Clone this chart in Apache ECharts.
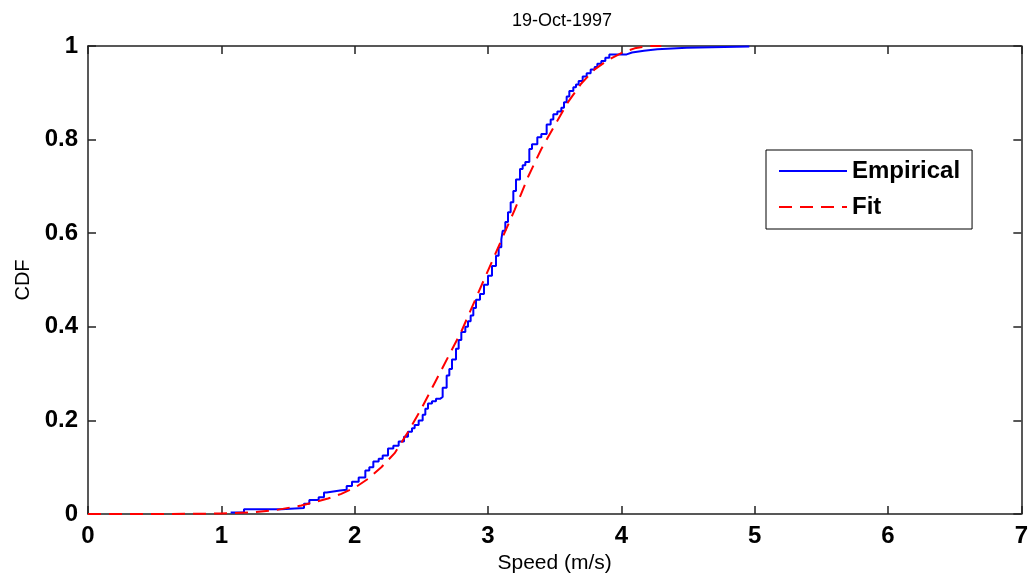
<!DOCTYPE html>
<html>
<head>
<meta charset="utf-8">
<script src="https://cdn.jsdelivr.net/npm/echarts@6/dist/echarts.min.js"></script>
<style>
  html, body { margin: 0; padding: 0; background: #fff; }
  #chart { width: 1031px; height: 579px; }
</style>
</head>
<body>
<div id="chart"></div>
<script>
// empirical CDF, jump locations (m/s) and value after each jump
var empiricalSpeed = [1.07, 1.17, 1.45, 1.62, 1.66, 1.73, 1.77, 1.79, 1.89, 1.94, 1.98, 2.03, 2.08, 2.11, 2.14, 2.18, 2.21, 2.25, 2.29, 2.33,
  2.37, 2.40, 2.43, 2.45, 2.48, 2.51, 2.53, 2.55, 2.58, 2.61, 2.64, 2.66, 2.69, 2.71, 2.73, 2.76, 2.78, 2.80, 2.83, 2.85,
  2.87, 2.89, 2.91, 2.94, 2.97, 3.00, 3.03, 3.06, 3.08, 3.10, 3.11, 3.13, 3.15, 3.17, 3.19, 3.21, 3.24, 3.26, 3.28, 3.31,
  3.33, 3.37, 3.40, 3.44, 3.47, 3.49, 3.52, 3.55, 3.57, 3.59, 3.61, 3.64, 3.66, 3.68, 3.71, 3.74, 3.77, 3.80, 3.82, 3.85,
  3.88, 3.91, 4.04, 4.08, 4.17, 4.27, 4.49, 4.96];
var empiricalCdf = [0.003, 0.010, 0.013, 0.022, 0.030, 0.036, 0.046, 0.050, 0.052, 0.060, 0.069, 0.078, 0.093, 0.100, 0.112, 0.118, 0.125, 0.140, 0.146, 0.155,
  0.165, 0.176, 0.183, 0.190, 0.200, 0.212, 0.225, 0.236, 0.241, 0.246, 0.250, 0.270, 0.296, 0.310, 0.330, 0.353, 0.372, 0.389, 0.400, 0.412,
  0.424, 0.440, 0.458, 0.470, 0.490, 0.509, 0.530, 0.552, 0.570, 0.587, 0.605, 0.624, 0.645, 0.666, 0.690, 0.715, 0.737, 0.745, 0.752, 0.780,
  0.790, 0.805, 0.812, 0.832, 0.843, 0.854, 0.860, 0.868, 0.880, 0.892, 0.904, 0.912, 0.918, 0.925, 0.935, 0.942, 0.950, 0.955, 0.962, 0.968,
  0.975, 0.982, 0.986, 0.990, 0.993, 0.996, 0.999, 1.000];

// fitted CDF
var fitSpeed = [0, 0.5, 1.0, 1.2, 1.4, 1.6, 1.8, 1.9, 2.0, 2.1, 2.2, 2.3, 2.4, 2.5, 2.6, 2.7, 2.8, 2.9, 3.0,
  3.1, 3.2, 3.3, 3.4, 3.5, 3.6, 3.7, 3.8, 3.9, 4.0, 4.1, 4.2, 4.3];
var fitCdf = [0, 0, 0.001, 0.003, 0.008, 0.018, 0.033, 0.043, 0.056, 0.075, 0.100, 0.130, 0.175, 0.225, 0.280, 0.335, 0.390, 0.455, 0.520,
  0.585, 0.650, 0.720, 0.780, 0.830, 0.880, 0.920, 0.950, 0.970, 0.985, 0.995, 1.000, 1.000];

var xTicks = { min: 0, max: 7, interval: 1 };
var yTicks = { min: 0, max: 1, interval: 0.2 };

function pairs(xs, ys) {
  var out = [];
  for (var i = 0; i < xs.length; i++) out.push([xs[i], ys[i]]);
  return out;
}

var chart = echarts.init(document.getElementById('chart'));
var lineAxis = { show: true, onZero: false, lineStyle: { color: '#222', width: 1.5 } };
var inTick = { show: true, inside: true, length: 8, lineStyle: { color: '#222', width: 1.5 } };
var tickFont = { color: '#000', fontFamily: 'Liberation Sans', fontWeight: 'bold', fontSize: 24 };

var option = {
  backgroundColor: '#fff',
  animation: false,
  title: {
    text: '19-Oct-1997',
    left: 557, top: 7, textAlign: 'center',
    textStyle: { color: '#000', fontFamily: 'Liberation Sans', fontWeight: 'normal', fontSize: 18 }
  },
  grid: { left: 88, right: 5, top: 46, bottom: 63.5 },
  legend: {
    orient: 'vertical',
    left: 766, top: 150,
    padding: [9, 12, 10, 12],
    itemGap: 12,
    itemWidth: 68, itemHeight: 14,
    itemStyle: { opacity: 0 },
    borderColor: '#000', borderWidth: 1,
    backgroundColor: '#fff',
    textStyle: { color: '#000', fontFamily: 'Liberation Sans', fontWeight: 'bold', fontSize: 24 },
    data: ['Empirical', 'Fit']
  },
  xAxis: [{
    type: 'value', position: 'bottom',
    min: xTicks.min, max: xTicks.max, interval: xTicks.interval,
    name: 'Speed (m/s)', nameLocation: 'middle', nameGap: 39,
    nameTextStyle: { color: '#000', fontFamily: 'Liberation Sans', fontSize: 21 },
    axisLine: lineAxis, axisTick: inTick,
    axisLabel: Object.assign({ margin: 10 }, tickFont),
    splitLine: { show: false }
  }, {
    type: 'value', position: 'top',
    min: xTicks.min, max: xTicks.max, interval: xTicks.interval,
    axisLine: lineAxis, axisTick: inTick,
    axisLabel: { show: false }, splitLine: { show: false }
  }],
  yAxis: [{
    type: 'value', position: 'left',
    min: yTicks.min, max: yTicks.max, interval: yTicks.interval,
    name: 'CDF', nameLocation: 'middle', nameGap: 55,
    nameTextStyle: { color: '#000', fontFamily: 'Liberation Sans', fontSize: 20 },
    axisLine: lineAxis, axisTick: inTick,
    axisLabel: Object.assign({ margin: 10 }, tickFont),
    splitLine: { show: false }
  }, {
    type: 'value', position: 'right',
    min: yTicks.min, max: yTicks.max, interval: yTicks.interval,
    axisLine: lineAxis, axisTick: inTick,
    axisLabel: { show: false }, splitLine: { show: false }
  }],
  series: [{
    name: 'Empirical',
    type: 'line',
    step: 'end',
    symbol: 'none',
    xAxisIndex: 0, yAxisIndex: 0,
    lineStyle: { color: '#0000ff', width: 2 },
    itemStyle: { color: '#0000ff' },
    data: pairs(empiricalSpeed, empiricalCdf)
  }, {
    name: 'Fit',
    type: 'line',
    symbol: 'none',
    xAxisIndex: 0, yAxisIndex: 0,
    lineStyle: { color: '#ff0000', width: 2, type: [13, 8] },
    itemStyle: { color: '#ff0000' },
    data: pairs(fitSpeed, fitCdf)
  }]
};

chart.setOption(option);
</script>
</body>
</html>
